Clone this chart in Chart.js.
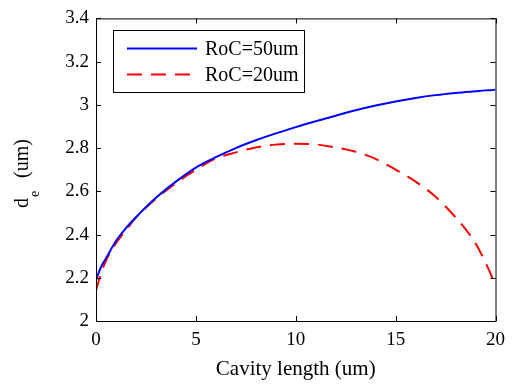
<!DOCTYPE html>
<html>
<head>
<meta charset="utf-8">
<script src="https://cdn.jsdelivr.net/npm/chart.js@4.4.0/dist/chart.umd.min.js"></script>
<style>
  html, body { margin: 0; padding: 0; background: #fff; }
  canvas { display: block; }
</style>
</head>
<body>
<canvas id="chart" width="513" height="387"></canvas>
<script>
// cavity length (um)
const lengths = [0, 0.25, 0.5, 1, 1.5, 2, 3, 4, 5, 6, 7, 8, 9, 10, 11, 12, 13, 14, 15, 16, 17, 18, 18.5, 19, 19.5, 19.75, 20];
// d_e (um) for each mirror
const roc50 = [2.19, 2.25, 2.29, 2.37, 2.43, 2.48, 2.57, 2.645, 2.71, 2.758, 2.80, 2.836, 2.868, 2.897, 2.924, 2.95, 2.975, 2.997, 3.016, 3.032, 3.045, 3.055, 3.059, 3.063, 3.067, 3.068, 3.07];
const roc20 = [2.14, 2.22, 2.28, 2.36, 2.42, 2.478, 2.565, 2.638, 2.70, 2.752, 2.78, 2.803, 2.816, 2.82, 2.817, 2.803, 2.783, 2.75, 2.70, 2.645, 2.575, 2.48, 2.425, 2.36, 2.27, 2.22, 2.16];
const seriesLabels = ['RoC=50um', 'RoC=20um'];
const xTicks = [0, 5, 10, 15, 20];
const yTicks = [2, 2.2, 2.4, 2.6, 2.8, 3, 3.2, 3.4];

const serif = "'Liberation Serif', 'Times New Roman', serif";

function toPoints(ys) {
    return lengths.map((x, i) => ({ x: x, y: ys[i] }));
}

// box around the axes with inward ticks on all four sides
const framePlugin = {
    id: 'frame',
    afterDraw(chart) {
        const { ctx, chartArea: a, scales } = chart;
        const t = 5;
        ctx.save();
        ctx.strokeStyle = '#000';
        ctx.lineWidth = 1;
        ctx.strokeRect(a.left + 0.5, a.top + 0.5, a.right - a.left, a.bottom - a.top);
        ctx.beginPath();
        xTicks.forEach(v => {
            const px = Math.round(scales.x.getPixelForValue(v)) + 0.5;
            ctx.moveTo(px, a.bottom); ctx.lineTo(px, a.bottom - t);
            ctx.moveTo(px, a.top); ctx.lineTo(px, a.top + t);
        });
        yTicks.forEach(v => {
            const py = Math.round(scales.y.getPixelForValue(v)) + 0.5;
            ctx.moveTo(a.left, py); ctx.lineTo(a.left + t, py);
            ctx.moveTo(a.right, py); ctx.lineTo(a.right - t, py);
        });
        ctx.stroke();
        ctx.restore();
    }
};

// y title with a subscript e, read bottom to top
const yTitlePlugin = {
    id: 'ytitle',
    afterDraw(chart) {
        const ctx = chart.ctx;
        const big = '20px ' + serif, small = '14px ' + serif;
        ctx.save();
        ctx.fillStyle = '#000';
        ctx.textBaseline = 'alphabetic';
        ctx.translate(28, 208);
        ctx.rotate(-Math.PI / 2);
        ctx.font = big;
        const wd = ctx.measureText('d').width;
        const wr = ctx.measureText('(um)').width;
        ctx.fillText('d', 0, 0);
        ctx.font = small;
        ctx.fillText('e', wd + 1, 11);
        ctx.font = big;
        ctx.fillText('(um)', 69 - wr, 0);
        ctx.restore();
    }
};

// boxed legend in the top left of the axes
const legendPlugin = {
    id: 'boxLegend',
    afterDraw(chart) {
        const ctx = chart.ctx;
        const box = { left: 113, top: 30, right: 304, bottom: 92 };
        ctx.save();
        ctx.fillStyle = '#fff';
        ctx.fillRect(box.left, box.top, box.right - box.left, box.bottom - box.top);
        ctx.strokeStyle = '#000';
        ctx.lineWidth = 1;
        ctx.strokeRect(box.left + 0.5, box.top + 0.5, box.right - box.left, box.bottom - box.top);
        ctx.font = '20px ' + serif;
        ctx.textBaseline = 'alphabetic';
        chart.data.datasets.forEach((ds, i) => {
            const base = 55 + i * 26;
            const ly = base - 6.5;
            ctx.strokeStyle = ds.borderColor;
            ctx.lineWidth = ds.borderWidth;
            ctx.setLineDash(ds.borderDash || []);
            ctx.beginPath();
            ctx.moveTo(127, ly);
            ctx.lineTo(197, ly);
            ctx.stroke();
            ctx.setLineDash([]);
            ctx.fillStyle = '#000';
            ctx.fillText(ds.label, 205, base);
        });
        ctx.restore();
    }
};

new Chart(document.getElementById('chart'), {
    type: 'line',
    data: {
        datasets: [{
            label: seriesLabels[0],
            data: toPoints(roc50),
            borderColor: '#0000ff',
            borderWidth: 2,
            pointRadius: 0,
            cubicInterpolationMode: 'monotone'
        }, {
            label: seriesLabels[1],
            data: toPoints(roc20),
            borderColor: '#ff0000',
            borderWidth: 2,
            borderDash: [15, 9],
            pointRadius: 0,
            cubicInterpolationMode: 'monotone'
        }]
    },
    options: {
        responsive: false,
        animation: false,
        devicePixelRatio: 1,
        layout: { padding: { left: 0, top: 16, right: 16, bottom: 0 } },
        plugins: {
            legend: { display: false },
            tooltip: { enabled: false }
        },
        scales: {
            x: {
                type: 'linear',
                min: 0,
                max: 20,
                afterBuildTicks: s => { s.ticks = xTicks.map(v => ({ value: v })); },
                afterFit: s => { s.height = 66; },
                grid: { display: false, drawTicks: false },
                border: { display: false },
                ticks: {
                    padding: 8,
                    color: '#000',
                    maxRotation: 0,
                    font: { family: serif, size: 19 },
                    callback: v => String(v)
                },
                title: {
                    display: true,
                    text: 'Cavity length (um)',
                    color: '#000',
                    padding: { top: 0, bottom: 5 },
                    font: { family: serif, size: 21 }
                }
            },
            y: {
                type: 'linear',
                min: 2,
                max: 3.4,
                afterBuildTicks: s => { s.ticks = yTicks.map(v => ({ value: v })); },
                afterFit: s => { s.width = 96; },
                grid: { display: false, drawTicks: false },
                border: { display: false },
                ticks: {
                    padding: 7,
                    color: '#000',
                    font: { family: serif, size: 19 },
                    callback: v => String(Math.round(v * 10) / 10)
                }
            }
        }
    },
    plugins: [framePlugin, yTitlePlugin, legendPlugin]
});
</script>
</body>
</html>
